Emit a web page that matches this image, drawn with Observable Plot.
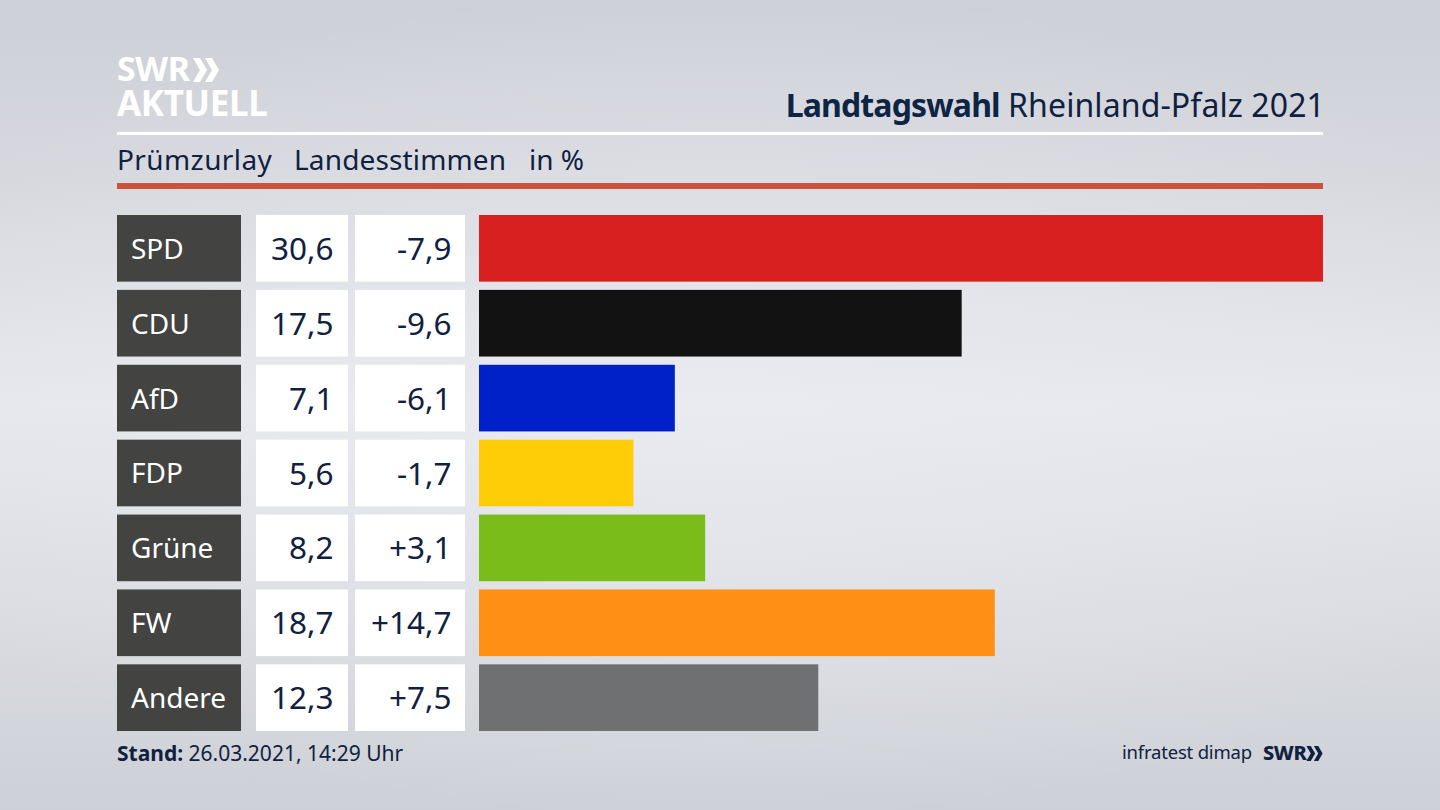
<!DOCTYPE html>
<html lang="de">
<head>
<meta charset="utf-8">
<script src="https://cdn.jsdelivr.net/npm/d3@7"></script>
<script src="https://cdn.jsdelivr.net/npm/@observablehq/plot@0.6"></script>
<style>
html,body{margin:0;padding:0;width:1440px;height:810px;overflow:hidden}
body{position:relative;font-family:"Noto Sans",sans-serif;color:#10213f;
background:
 radial-gradient(ellipse 900px 420px at 50% 50%, rgba(236,237,242,.55), rgba(236,237,242,0) 100%),
 linear-gradient(180deg,#cdd0d6 0%,#d6d8de 22%,#e7e8ed 50%,#d9dbe0 78%,#cdd0d6 100%);}
.abs{position:absolute;white-space:nowrap;line-height:1}
.col{position:absolute;top:215px}
.col svg{display:block;background:transparent}
.rule{position:absolute;left:117px;width:1206px}
.logo{color:#fff;font-weight:700;line-height:.85}
.chev{position:absolute;display:block}
</style>
</head>
<body>
<div class="abs logo" style="left:117px;top:54px;font-size:34px;letter-spacing:-.4px">SWR</div>
<svg class="chev" style="left:193px;top:58px" width="26" height="24" viewBox="0 0 26 24" fill="#fff"><path d="M0 0H7L14 12 7 24H0L7 12Z"/><path d="M12 0H19L26 12 19 24H12L19 12Z"/></svg>
<div class="abs logo" style="left:117px;top:88px;font-size:35px;letter-spacing:-.35px">AKTUELL</div>
<div class="abs" style="right:115px;top:89px;font-size:32px"><b style="color:#0e2444;letter-spacing:-.85px">Landtagswahl</b> <span style="letter-spacing:.1px">Rheinland-Pfalz 2021</span></div>
<div class="rule" style="top:132px;height:3px;background:#fff"></div>
<div class="abs" style="left:117px;top:145px;font-size:28px;letter-spacing:.4px">Prümzurlay</div>
<div class="abs" style="left:294px;top:145px;font-size:28px;letter-spacing:.15px">Landesstimmen</div>
<div class="abs" style="left:529px;top:145px;font-size:28px">in %</div>
<div class="rule" style="top:183px;height:6px;background:#c9533c"></div>

<div class="col" id="labels" style="left:117px"></div>
<div class="col" id="shareCol" style="left:256px"></div>
<div class="col" id="changeCol" style="left:355px"></div>
<div class="col" id="bars" style="left:479px"></div>

<div class="abs" style="left:117px;top:743px;font-size:21px"><b>Stand:</b> 26.03.2021, 14:29 Uhr</div>
<div class="abs" style="left:1122px;top:743px;font-size:18.5px;letter-spacing:-.2px">infratest dimap</div>
<div class="abs" style="left:1263px;top:743px;font-size:20px;font-weight:800;letter-spacing:-.4px">SWR</div>
<svg class="chev" style="left:1306px;top:746px" width="17" height="15" viewBox="0 0 26 24" fill="#10213f"><path d="M0 0H7L14 12 7 24H0L7 12Z"/><path d="M12 0H19L26 12 19 24H12L19 12Z"/></svg>

<script>
const parties = ["SPD","CDU","AfD","FDP","Grüne","FW","Andere"];
const shares = [30.6,17.5,7.1,5.6,8.2,18.7,12.3];
const changes = [-7.9,-9.6,-6.1,-1.7,3.1,14.7,7.5];
const partyColors = ["#d8201f","#121212","#0021c8","#ffcd08","#7abd1b","#ff9015","#6f7072"];
const barMax = 30.6;

const rows = parties.map((party,i)=>({party,share:shares[i],change:changes[i]}));
const H = 516;
const yScale = {axis:null,type:"band",domain:parties,paddingInner:0.11,paddingOuter:0,round:false};
const comma = v => v.toFixed(1).replace(".",",");
const signed = v => (v>0?"+":"")+comma(v);

function cell(width,fill,textFn,anchor,dx,color,size){
  return Plot.plot({
    width,height:H,margin:0,
    x:{axis:null,domain:[0,1]},
    y:yScale,
    style:{background:"transparent"},
    marks:[
      Plot.barX(rows,{x1:()=>0,x2:()=>1,y:"party",fill}),
      Plot.text(rows,{y:"party",text:textFn,frameAnchor:anchor,dx,dy:1,fill:color,fontSize:size,
        fontFamily:'"Noto Sans",sans-serif'})
    ]
  });
}
document.getElementById("labels").append(cell(124,"#434341",d=>d.party,"left",13.5,"#fff",28));
document.getElementById("shareCol").append(cell(92,"#fff",d=>comma(d.share),"right",-15,"#10213f",31.5));
document.getElementById("changeCol").append(cell(110,"#fff",d=>signed(d.change),"right",-14,"#10213f",31.5));
document.getElementById("bars").append(Plot.plot({
  width:844,height:H,margin:0,
  x:{axis:null,domain:[0,barMax]},
  y:yScale,
  color:{domain:parties,range:partyColors},
  style:{background:"transparent"},
  marks:[Plot.barX(rows,{x:"share",y:"party",fill:"party"})]
}));
</script>
</body>
</html>
